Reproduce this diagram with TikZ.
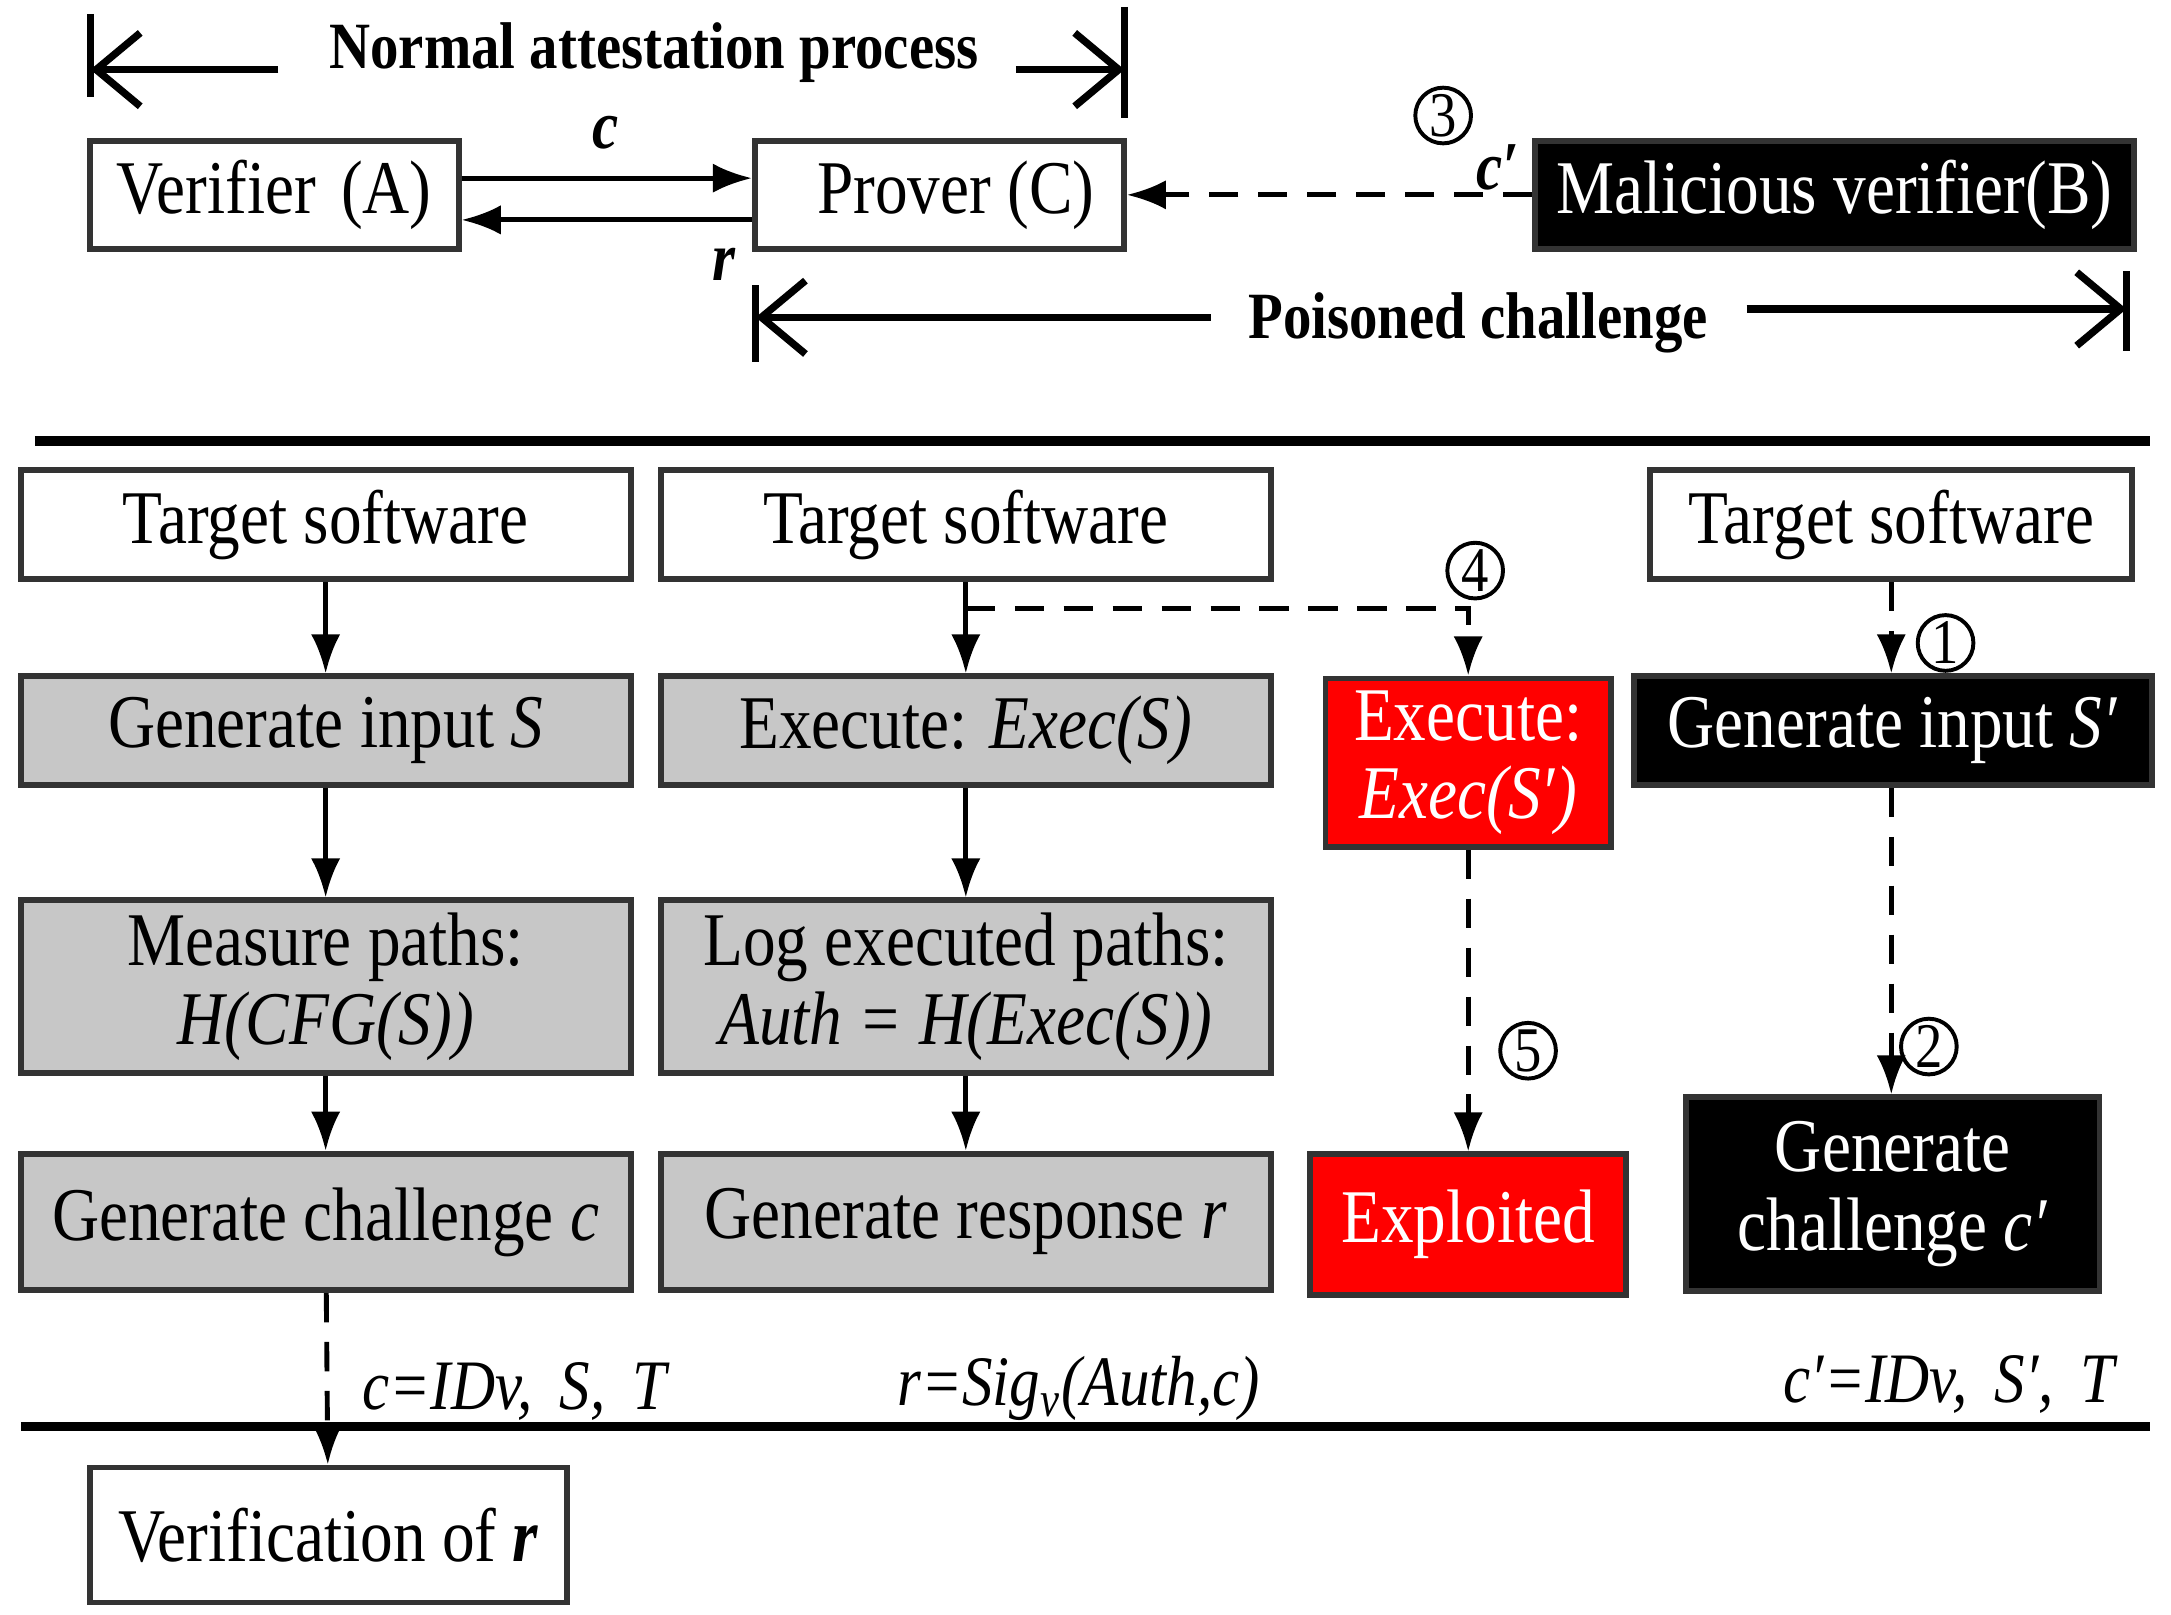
\documentclass[tikz,border=0pt]{standalone}
\usepackage{fontspec}
\setmainfont[FakeStretch=0.86]{Liberation Serif}
\usetikzlibrary{arrows.meta}
\begin{document}
\begin{tikzpicture}[x=0.01cm,y=-0.01cm,
 bx/.style={draw=black!80,line width=1.2pt,minimum height=#1*0.01cm,inner sep=1pt,align=center,font=\fontsize{15.5}{18}\selectfont},
 wb/.style={bx=78,fill=white},
 gb/.style={fill=black!22},
 blk/.style={fill=black,text=white},
 rd/.style={fill=red,text=white},
 ar/.style={-{Latex[length=8pt,width=6pt]},line width=1pt},
 da/.style={ar,dash pattern=on 6pt off 4pt},
 dim/.style={-{Straight Barb[length=9pt,width=15pt]},line width=1.5pt},
 cn/.style={circle,draw,line width=0.8pt,inner sep=0pt,minimum size=0.4cm,font=\fontsize{13}{13}\selectfont},
 lab/.style={font=\fontsize{14.5}{16}\selectfont\itshape}]
\useasboundingbox (0,0) rectangle (1560,1160);
% top dims
\draw[line width=1.5pt] (65,10)--(65,70) (808,5)--(808,85);
\node[font=\fontsize{13.5}{15}\selectfont\bfseries] (nap) at (470,38) {Normal attestation process};
\coordinate (l1) at (65,50); \coordinate (r1) at (808,50);
\draw[dim] (200,50) -- (l1);
\draw[dim] (730,50) -- (r1);
\draw[line width=1.5pt] (543,205)--(543,260) (1528,195)--(1528,252);
\node[font=\fontsize{13.5}{15}\selectfont\bfseries] (pc) at (1062,232) {Poisoned challenge};
\coordinate (l2) at (543,228); \coordinate (r2) at (1528,222);
\draw[dim] (870,228) -- (l2);
\draw[dim] (1255,222) -- (r2);
% top boxes
\node[wb,minimum width=2.65cm] (A) at (197,140) {Verifier\,\,(A)};
\node[wb,minimum width=2.65cm] (C) at (675,140) {\ \ Prover (C)};
\node[wb,blk,minimum width=4.3cm] (B) at (1318,140) {Malicious verifier(B)};
\draw[ar] (A.east|-0,128) -- (C.west|-0,128);
\draw[ar] (C.west|-0,158) -- (A.east|-0,158);
\node[font=\fontsize{14}{16}\selectfont\bfseries\itshape] at (435,95) {c};
\node[font=\fontsize{14}{16}\selectfont\bfseries\itshape] at (520,190) {r};
\draw[da] (B.west|-0,140) -- (C.east|-0,140);
\node[font=\fontsize{14}{16}\selectfont\bfseries\itshape] at (1076,120) {c′};
\node[cn] at (1037,83) {3};
\draw[line width=2pt] (25,317)--(1545,317);
% columns
\node[wb,minimum width=4.38cm] (t1) at (234,377) {Target software};
\node[wb,gb,minimum width=4.38cm] (g1) at (234,525) {Generate input \textit{S}};
\node[bx=124,gb,minimum width=4.38cm] (m1) at (234,709) {Measure paths:\\[-2pt]\textit{H(CFG(S))}};
\node[bx=98,gb,minimum width=4.38cm] (c1) at (234,878) {Generate challenge \textit{c}};
\draw[ar] (t1)--(g1); \draw[ar] (g1)--(m1); \draw[ar] (m1)--(c1);
\node[wb,minimum width=4.38cm] (t2) at (694,377) {Target software};
\node[wb,gb,minimum width=4.38cm] (g2) at (694,525) {Execute: \textit{Exec(S)}};
\node[bx=124,gb,minimum width=4.38cm] (m2) at (694,709) {Log executed paths:\\[-2pt]\textit{Auth = H(Exec(S))}};
\node[bx=98,gb,minimum width=4.38cm] (c2) at (694,878) {Generate response \textit{r}};
\draw[ar] (t2)--(g2); \draw[ar] (g2)--(m2); \draw[ar] (m2)--(c2);
\node[bx=121,rd,minimum width=2.05cm] (e3) at (1055,548) {Execute:\\[-2pt]\textit{Exec(S′)}};
\node[bx=101,rd,minimum width=2.27cm] (x3) at (1055,880) {Exploited};
\coordinate (j) at (694,437);
\draw[da] (j) -| (e3.north);
\node[cn] at (1060,410) {4};
\draw[da] (e3) -- (x3);
\node[cn] at (1098,755) {5};
\node[wb,minimum width=3.46cm] (t4) at (1359,377) {Target software};
\node[wb,blk,minimum width=3.72cm] (g4) at (1360,525) {Generate input \textit{S′}};
\node[bx=139,blk,minimum width=2.97cm] (c4) at (1360,858) {Generate\\[-2pt]challenge \textit{c′}};
\draw[da] (t4.south-|1359,0) -- (g4.north-|1359,0);
\node[cn] at (1398,462) {1};
\draw[da] (g4.south-|1359,0) -- (c4.north-|1359,0);
\node[cn] at (1386,752) {2};
\node[lab,anchor=west] at (248,1000) {c=IDv,\, S,\, T};
\node[lab] at (775,998) {r=Sig\textsubscript{v}(Auth,c)};
\node[lab,anchor=east] at (1532,995) {c′=IDv,\, S′,\, T};
\draw[line width=2pt] (15,1025)--(1545,1025);
\node[bx=97,fill=white,minimum width=3.43cm] (v) at (236,1103) {Verification of \textbf{\textit{r}}};
\draw[da] (c1) -- (v);
\end{tikzpicture}
\end{document}
